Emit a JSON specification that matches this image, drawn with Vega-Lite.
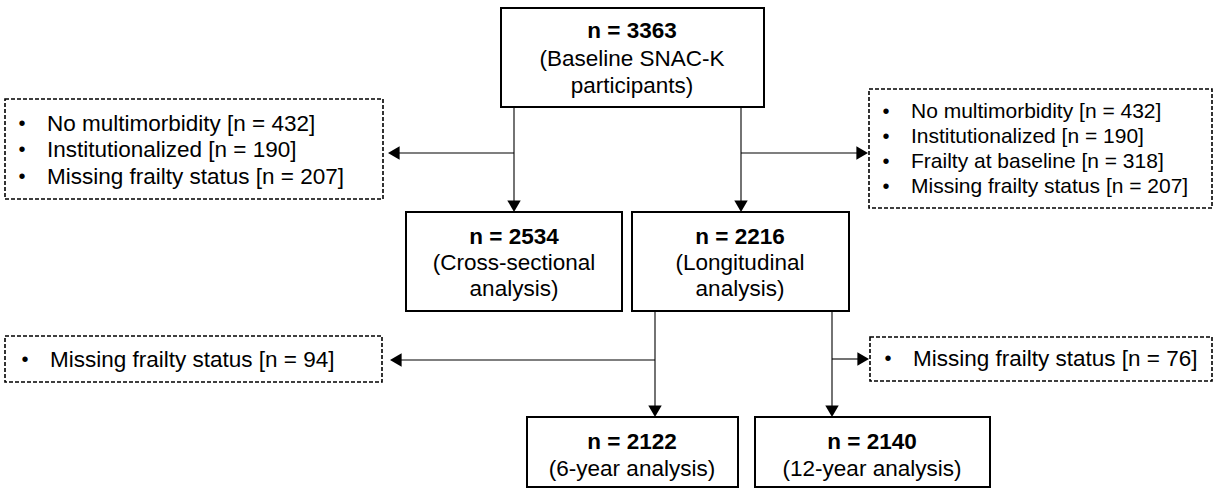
{
  "$schema": "https://vega.github.io/schema/vega-lite/v6.json",
  "width": 1214,
  "height": 489,
  "autosize": {"type": "fit", "contains": "padding"},
  "padding": 0,
  "background": "white",
  "config": {"view": {"stroke": null}, "text": {"font": "Liberation Sans", "fontSize": 22.5, "color": "black"}},
  "datasets": {
    "boxes": [
      {"id": "baseline", "kind": "cohort", "x1": 501, "x2": 764, "y1": 8, "y2": 107},
      {"id": "cross", "kind": "cohort", "x1": 406, "x2": 622, "y1": 212, "y2": 311},
      {"id": "long", "kind": "cohort", "x1": 632, "x2": 849, "y1": 212, "y2": 311},
      {"id": "y6", "kind": "cohort", "x1": 527, "x2": 738, "y1": 417, "y2": 487},
      {"id": "y12", "kind": "cohort", "x1": 755, "x2": 990, "y1": 417, "y2": 487},
      {"id": "ex1", "kind": "excluded", "x1": 5, "x2": 383, "y1": 99, "y2": 199},
      {"id": "ex2", "kind": "excluded", "x1": 869, "x2": 1212, "y1": 89, "y2": 208},
      {"id": "ex3", "kind": "excluded", "x1": 5, "x2": 382, "y1": 336, "y2": 382},
      {"id": "ex4", "kind": "excluded", "x1": 870, "x2": 1212, "y1": 337, "y2": 381}
    ],
    "links": [
      {"x1": 514, "y1": 107, "x2": 514, "y2": 206},
      {"x1": 741, "y1": 107, "x2": 741, "y2": 206},
      {"x1": 514, "y1": 153, "x2": 394, "y2": 153},
      {"x1": 741, "y1": 153, "x2": 862, "y2": 153},
      {"x1": 655, "y1": 311, "x2": 655, "y2": 411},
      {"x1": 832, "y1": 311, "x2": 832, "y2": 411},
      {"x1": 655, "y1": 360, "x2": 396, "y2": 360},
      {"x1": 832, "y1": 359, "x2": 864, "y2": 359}
    ],
    "heads": [
      {"x": 514, "y": 212, "dir": "down"},
      {"x": 741, "y": 212, "dir": "down"},
      {"x": 655, "y": 417, "dir": "down"},
      {"x": 832, "y": 417, "dir": "down"},
      {"x": 388, "y": 153, "dir": "left"},
      {"x": 390, "y": 360, "dir": "left"},
      {"x": 868, "y": 153, "dir": "right"},
      {"x": 869, "y": 359, "dir": "right"}
    ],
    "labels": [
      {"box": "baseline", "role": "count", "x": 632, "y": 31, "text": "n = 3363"},
      {"box": "baseline", "role": "desc", "x": 632, "y": 59, "text": "(Baseline SNAC-K"},
      {"box": "baseline", "role": "desc", "x": 632, "y": 86, "text": "participants)"},
      {"box": "cross", "role": "count", "x": 514, "y": 237, "text": "n = 2534"},
      {"box": "cross", "role": "desc", "x": 514, "y": 263, "text": "(Cross-sectional"},
      {"box": "cross", "role": "desc", "x": 514, "y": 289, "text": "analysis)"},
      {"box": "long", "role": "count", "x": 740, "y": 237, "text": "n = 2216"},
      {"box": "long", "role": "desc", "x": 740, "y": 263, "text": "(Longitudinal"},
      {"box": "long", "role": "desc", "x": 740, "y": 289, "text": "analysis)"},
      {"box": "y6", "role": "count", "x": 632, "y": 442, "text": "n = 2122"},
      {"box": "y6", "role": "desc", "x": 632, "y": 469, "text": "(6-year analysis)"},
      {"box": "y12", "role": "count", "x": 872, "y": 442, "text": "n = 2140"},
      {"box": "y12", "role": "desc", "x": 872, "y": 469, "text": "(12-year analysis)"}
    ],
    "items": [
      {"box": "ex1", "bx": 22, "tx": 47, "y": 124, "text": "No multimorbidity [n = 432]"},
      {"box": "ex1", "bx": 22, "tx": 47, "y": 150, "text": "Institutionalized [n = 190]"},
      {"box": "ex1", "bx": 22, "tx": 47, "y": 177, "text": "Missing frailty status [n = 207]"},
      {"box": "ex2", "bx": 886, "tx": 911, "y": 112, "text": "No multimorbidity [n = 432]"},
      {"box": "ex2", "bx": 886, "tx": 911, "y": 137, "text": "Institutionalized [n = 190]"},
      {"box": "ex2", "bx": 886, "tx": 911, "y": 162, "text": "Frailty at baseline [n = 318]"},
      {"box": "ex2", "bx": 886, "tx": 911, "y": 187, "text": "Missing frailty status [n = 207]"},
      {"box": "ex3", "bx": 25, "tx": 50, "y": 360, "text": "Missing frailty status [n = 94]"},
      {"box": "ex4", "bx": 888, "tx": 913, "y": 359, "text": "Missing frailty status [n = 76]"}
    ]
  },
  "layer": [
    {
      "data": {"name": "boxes"},
      "transform": [{"filter": "datum.kind == 'cohort'"}],
      "mark": {"type": "rect", "fill": "white", "stroke": "black", "strokeWidth": 2},
      "encoding": {
        "x": {"field": "x1", "type": "quantitative", "scale": {"domain": [0, 1214], "nice": false, "zero": false}, "axis": null},
        "x2": {"field": "x2"},
        "y": {"field": "y1", "type": "quantitative", "scale": {"domain": [0, 489], "nice": false, "zero": false, "reverse": true}, "axis": null},
        "y2": {"field": "y2"}
      }
    },
    {
      "data": {"name": "boxes"},
      "transform": [{"filter": "datum.kind == 'excluded'"}],
      "mark": {"type": "rect", "fill": "white", "stroke": "black", "strokeWidth": 1.6, "strokeDash": [4, 2]},
      "encoding": {
        "x": {"field": "x1", "type": "quantitative"},
        "x2": {"field": "x2"},
        "y": {"field": "y1", "type": "quantitative"},
        "y2": {"field": "y2"}
      }
    },
    {
      "data": {"name": "links"},
      "mark": {"type": "rule", "color": "black", "strokeWidth": 1.1},
      "encoding": {
        "x": {"field": "x1", "type": "quantitative"},
        "x2": {"field": "x2"},
        "y": {"field": "y1", "type": "quantitative"},
        "y2": {"field": "y2"}
      }
    },
    {
      "data": {"name": "heads"},
      "transform": [{"filter": "datum.dir == 'down'"}],
      "mark": {"type": "point", "shape": "triangle-down", "filled": true, "color": "black", "size": 180, "opacity": 1, "yOffset": -5.8},
      "encoding": {
        "x": {"field": "x", "type": "quantitative"},
        "y": {"field": "y", "type": "quantitative"}
      }
    },
    {
      "data": {"name": "heads"},
      "transform": [{"filter": "datum.dir == 'left'"}],
      "mark": {"type": "point", "shape": "triangle-left", "filled": true, "color": "black", "size": 180, "opacity": 1, "xOffset": 5.8},
      "encoding": {
        "x": {"field": "x", "type": "quantitative"},
        "y": {"field": "y", "type": "quantitative"}
      }
    },
    {
      "data": {"name": "heads"},
      "transform": [{"filter": "datum.dir == 'right'"}],
      "mark": {"type": "point", "shape": "triangle-right", "filled": true, "color": "black", "size": 180, "opacity": 1, "xOffset": -5.8},
      "encoding": {
        "x": {"field": "x", "type": "quantitative"},
        "y": {"field": "y", "type": "quantitative"}
      }
    },
    {
      "data": {"name": "labels"},
      "transform": [{"filter": "datum.role == 'count'"}],
      "mark": {"type": "text", "align": "center", "baseline": "middle", "fontWeight": "bold", "fontSize": 22.5},
      "encoding": {
        "x": {"field": "x", "type": "quantitative"},
        "y": {"field": "y", "type": "quantitative"},
        "text": {"field": "text"}
      }
    },
    {
      "data": {"name": "labels"},
      "transform": [{"filter": "datum.role == 'desc'"}],
      "mark": {"type": "text", "align": "center", "baseline": "middle", "fontSize": 22.5},
      "encoding": {
        "x": {"field": "x", "type": "quantitative"},
        "y": {"field": "y", "type": "quantitative"},
        "text": {"field": "text"}
      }
    },
    {
      "data": {"name": "items"},
      "transform": [{"filter": "datum.box != 'ex2'"}],
      "mark": {"type": "text", "align": "left", "baseline": "middle", "fontSize": 22.5},
      "encoding": {
        "x": {"field": "tx", "type": "quantitative"},
        "y": {"field": "y", "type": "quantitative"},
        "text": {"field": "text"}
      }
    },
    {
      "data": {"name": "items"},
      "transform": [{"filter": "datum.box == 'ex2'"}],
      "mark": {"type": "text", "align": "left", "baseline": "middle", "fontSize": 21},
      "encoding": {
        "x": {"field": "tx", "type": "quantitative"},
        "y": {"field": "y", "type": "quantitative"},
        "text": {"field": "text"}
      }
    },
    {
      "data": {"name": "items"},
      "mark": {"type": "text", "align": "center", "baseline": "middle", "fontSize": 20, "text": "•"},
      "encoding": {
        "x": {"field": "bx", "type": "quantitative"},
        "y": {"field": "y", "type": "quantitative"}
      }
    }
  ]
}
